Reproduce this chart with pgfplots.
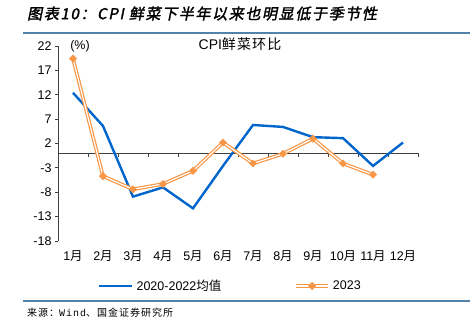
\documentclass[border=0pt]{standalone}
\usepackage{fontspec}
\setmainfont{Liberation Sans}
\newfontfamily\cjk{Noto Sans CJK SC}
\newfontfamily\cjkc[LetterSpace=8]{Noto Sans CJK SC}
\newfontfamily\cjkt[FakeSlant=0.2,FakeBold=2,LetterSpace=11]{Noto Sans CJK SC}
\newfontfamily\cjks[LetterSpace=10]{Noto Sans CJK SC}
\newfontfamily\monof[LetterSpace=10]{Liberation Mono}
\usepackage{pgfplots}
\pgfplotsset{compat=1.18}
\usepackage{pgfplotstable}
\definecolor{blueC}{RGB}{0,102,204}
\definecolor{orangeC}{RGB}{247,150,70}
\definecolor{ruleC}{RGB}{84,130,168}
\newcommand\yue{{\cjk 月}}

\pgfplotstableread{
m avg y23
1 12.4 19.4
2 5.6 -4.7
3 -8.9 -7.4
4 -7.0 -6.3
5 -11.3 -3.6
6 -2.6 2.2
7 5.8 -2.1
8 5.4 -0.1
9 3.3 3.0
10 3.1 -2.1
11 -2.6 -4.4
12 2.2 nan
}\data

\begin{document}
\begin{tikzpicture}
\useasboundingbox (0pt,0pt) rectangle (470pt,322pt);
% title
\node[anchor=west, inner sep=0pt] at (27pt,308.5pt) {\cjkt\fontsize{15}{18}\selectfont 图表10：CPI 鲜菜下半年以来也明显低于季节性};
\draw[ruleC, line width=1.6pt] (23pt,289pt) -- (470pt,289pt);
\draw[ruleC, line width=1.6pt] (23pt,21pt) -- (470pt,21pt);
\node[anchor=west, inner sep=0pt] at (27pt,9pt) {\cjks\fontsize{10}{12}\selectfont 来源：{\monof Wind}、国金证券研究所};
\begin{axis}[
  at={(58pt,81pt)}, anchor=south west,
  scale only axis, width=360pt, height=195pt,
  xmin=0.5, xmax=12.5, ymin=-18, ymax=22,
  axis y line*=left, axis x line*=bottom,
  x axis line style={draw=none},
  y axis line style={black!75, line width=0.8pt, -},
  xtick={1,2,3,4,5,6,7,8,9,10,11,12},
  xticklabels={1\yue,2\yue,3\yue,4\yue,5\yue,6\yue,7\yue,8\yue,9\yue,10\yue,11\yue,12\yue},
  xticklabel style={yshift=-3pt},
  x tick style={draw=none},
  ytick={-18,-13,-8,-3,2,7,12,17,22},
  yticklabels={-18,-13,-8,-3,2,7,12,17,22},
  y tick style={black!75, line width=0.8pt},
  tick align=outside, major tick length=3pt,
  tick label style={font=\fontsize{12.5}{15}\selectfont, black},
  clip=false,
  legend columns=2,
  legend style={at={(0.1111,-0.2308)}, anchor=west, draw=none, fill=none,
    inner sep=0pt, font=\fontsize{12.5}{15}\selectfont,
    nodes={inner sep=0pt},
    /tikz/every odd column/.append style={column sep=3pt},
    /tikz/every even column/.append style={column sep=73pt}},
  legend cell align=left,
]
\draw[black!75, line width=0.8pt] (axis cs:0.5,0) -- (axis cs:12.5,0);
\foreach \t in {0.5,1.5,...,12.5}{\edef\tmp{\noexpand\draw[black!75,line width=0.8pt] (axis cs:\t,0) -- ([yshift=-4pt]axis cs:\t,0);}\tmp}
\addlegendimage{legend image code/.code={\draw[blueC,line width=2.4pt] (0pt,0pt) -- (33pt,0pt);}}
\addlegendentry{2020-2022{\cjk 均值}}
\addlegendimage{legend image code/.code={
  \draw[orangeC,line width=3.6pt] (0pt,0pt) -- (32pt,0pt);
  \draw[white,line width=1.2pt] (0pt,0pt) -- (32pt,0pt);
  \fill[orangeC] (16pt,0pt) +(-3.7pt,0pt) -- +(0pt,3.7pt) -- +(3.7pt,0pt) -- +(0pt,-3.7pt) -- cycle;}}
\addlegendentry{2023}
\addplot[blueC, line width=2.4pt, no markers, forget plot] table[x=m, y=avg] {\data};
\addplot[orangeC, line width=3.6pt, no markers, forget plot] table[x=m, y=y23] {\data};
\addplot[white, line width=1.2pt, no markers, forget plot] table[x=m, y=y23] {\data};
\addplot[only marks, mark=square*, mark size=2.6pt, mark options={rotate=45, fill=orangeC, draw=orangeC, line width=0.4pt}, forget plot] table[x=m, y=y23] {\data};
\end{axis}
\node[inner sep=0pt] at (240pt,278pt) {\fontsize{14}{16}\selectfont CPI{\cjkc 鲜菜环比}};
\node[inner sep=0pt] at (80pt,276pt) {\fontsize{12.5}{15}\selectfont (\%)};
\end{tikzpicture}
\end{document}
